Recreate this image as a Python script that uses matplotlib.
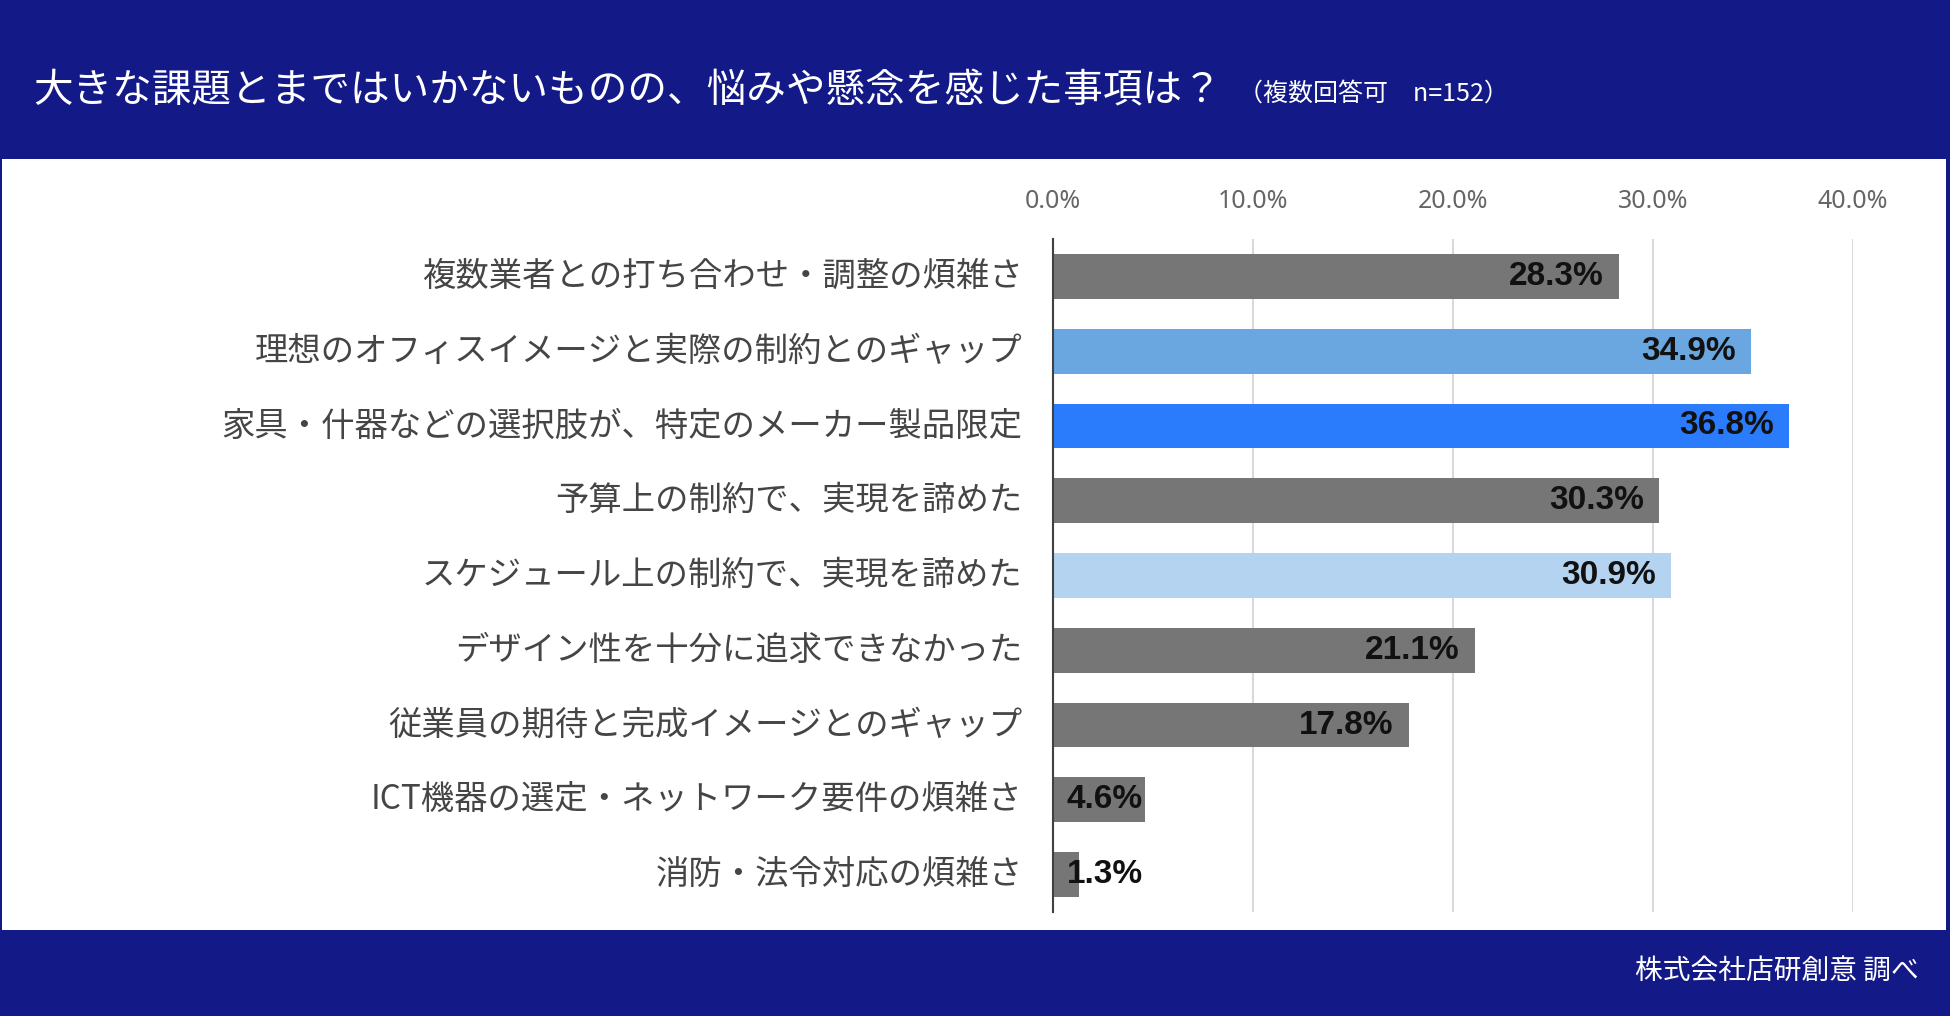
import numpy as np
import matplotlib
matplotlib.use('Agg')
import matplotlib.pyplot as plt
import matplotlib.transforms as mtransforms
from matplotlib.patches import Rectangle
from matplotlib import font_manager

# data
categories = [
    '複数業者との打ち合わせ・調整の煩雑さ',
    '理想のオフィスイメージと実際の制約とのギャップ',
    '家具・什器などの選択肢が、特定のメーカー製品限定',
    '予算上の制約で、実現を諦めた',
    'スケジュール上の制約で、実現を諦めた',
    'デザイン性を十分に追求できなかった',
    '従業員の期待と完成イメージとのギャップ',
    'ICT機器の選定・ネットワーク要件の煩雑さ',
    '消防・法令対応の煩雑さ',
]
values = [28.3, 34.9, 36.8, 30.3, 30.9, 21.1, 17.8, 4.6, 1.3]
bar_colors = ['#767676', '#6aa6df', '#2b7cfc', '#767676', '#b4d3f0',
              '#767676', '#767676', '#767676', '#767676']
tick_values = [0, 10, 20, 30, 40]
tick_labels = ['0.0%', '10.0%', '20.0%', '30.0%', '40.0%']

title = '大きな課題とまではいかないものの、悩みや懸念を感じた事項は？'
subtitle = '（複数回答可　n=152）'
footer = '株式会社店研創意 調べ'

NAVY = '#131a88'
W, H = 1950, 1016

plt.rcParams['font.family'] = ['Noto Sans CJK JP', 'DejaVu Sans']

# narrow bold font for the value labels, if there is one
installed = {f.name for f in font_manager.fontManager.ttflist}
if 'Liberation Sans Narrow' in installed:
    value_font, value_size = 'Liberation Sans Narrow', 28
elif 'DejaVu Sans Condensed' in installed:
    value_font, value_size = 'DejaVu Sans Condensed', 23
else:
    value_font, value_size = 'Liberation Sans', 24

fig = plt.figure(figsize=(W / 100, H / 100), dpi=100, facecolor=NAVY)

# white panel between the navy bands
fig.patches.append(Rectangle((2 / W, (H - 930) / H), (W - 6) / W, (930 - 159) / H,
                             transform=fig.transFigure, facecolor='white',
                             edgecolor='none', zorder=-1))

ax = fig.add_axes([1053 / W, 1 - 912 / H, 800 / W, 673 / H])
y = np.arange(len(categories))
ax.barh(y, values, height=0.6, color=bar_colors, zorder=2)
ax.set_xlim(0, 40)
ax.set_ylim(len(categories) - 0.5, -0.5)

ax.xaxis.tick_top()
ax.set_xticks(tick_values, tick_labels)
ax.tick_params(axis='x', length=0, pad=18, labelsize=18, labelcolor='#666666')
for t in ax.get_xticklabels():
    t.set_family(['Noto Sans', 'DejaVu Sans'])
ax.set_yticks(y, categories)
ax.tick_params(axis='y', length=0, pad=22, labelsize=24, labelcolor='#454545')
# nudge the category labels up a little
shift = mtransforms.ScaledTranslation(0, 4 / 100, fig.dpi_scale_trans)
for t in ax.get_yticklabels():
    t.set_transform(t.get_transform() + shift)

ax.grid(axis='x', color='#d9d9d9', linewidth=1.5, zorder=0)
ax.set_axisbelow(True)
for s in ['top', 'right', 'bottom']:
    ax.spines[s].set_visible(False)
ax.spines['left'].set_color('#404040')
ax.spines['left'].set_linewidth(1.5)
ax.spines['left'].set_zorder(3)

# value labels inside the bar end (or from the base for short bars)
for i, v in enumerate(values):
    if v < 5:
        ax.annotate(f'{v:.1f}%', xy=(0, i), xytext=(10, 0), textcoords='offset points',
                    ha='left', va='center', fontsize=value_size, fontweight='bold',
                    color='#111111', family=[value_font, 'DejaVu Sans'], zorder=4)
    else:
        ax.annotate(f'{v:.1f}%', xy=(v, i), xytext=(-11, 0), textcoords='offset points',
                    ha='right', va='center', fontsize=value_size, fontweight='bold',
                    color='#111111', family=[value_font, 'DejaVu Sans'], zorder=4)

fig.text(33 / W, 1 - 91 / H, title, color='white', fontsize=28.5, va='center', ha='left')
fig.text(1238 / W, 1 - 94 / H, subtitle, color='white', fontsize=18, va='center', ha='left')
fig.text(1919 / W, 1 - 972 / H, footer, color='white', fontsize=20, va='center', ha='right')

fig.savefig('out.png', dpi=100, facecolor=fig.get_facecolor())
